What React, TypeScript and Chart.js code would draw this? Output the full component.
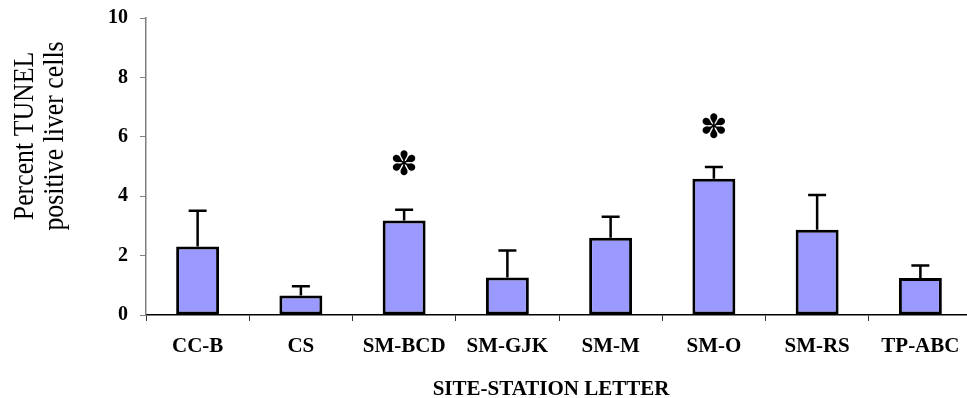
import React, { useEffect, useRef } from "react";
import { Chart, registerables } from "chart.js";

Chart.register(...registerables);

const categories = ["CC-B", "CS", "SM-BCD", "SM-GJK", "SM-M", "SM-O", "SM-RS", "TP-ABC"];
const means = [2.31, 0.66, 3.18, 1.26, 2.6, 4.59, 2.87, 1.25];
const errors = [1.2, 0.31, 0.36, 0.91, 0.71, 0.39, 1.17, 0.42];
const starValues: (number | null)[] = [null, null, 4.99, null, null, 6.26, null, null];
const yTitleLines = ["Percent TUNEL", "positive liver cells"];
const xTitle = "SITE-STATION LETTER";

const SERIF = '"Liberation Serif", "Times New Roman", serif';

const overlayPlugin = {
  id: "overlay",
  afterDatasetsDraw(chart: any) {
    const ctx = chart.ctx;
    const meta = chart.getDatasetMeta(0);
    const y = chart.scales.y;
    ctx.save();
    ctx.strokeStyle = "#000";
    ctx.lineWidth = 2.5;
    meta.data.forEach((bar: any, i: number) => {
      const top = y.getPixelForValue(means[i] + errors[i]);
      const barTop = bar.y;
      ctx.beginPath();
      ctx.moveTo(bar.x, barTop);
      ctx.lineTo(bar.x, top);
      ctx.moveTo(bar.x - 9, top);
      ctx.lineTo(bar.x + 9, top);
      ctx.stroke();
      const s = starValues[i];
      if (s !== null && s !== undefined) {
        ctx.fillStyle = "#000";
        ctx.font = 'bold 33px "DejaVu Sans"';
        ctx.textAlign = "center";
        ctx.textBaseline = "middle";
        ctx.fillText("\u273D", bar.x, y.getPixelForValue(s));
      }
    });
    ctx.restore();
  },
  afterDraw(chart: any) {
    const ctx = chart.ctx;
    ctx.save();
    ctx.fillStyle = "#000";
    // y title
    ctx.translate(0, 136);
    ctx.rotate(-Math.PI / 2);
    ctx.scale(0.89, 1);
    ctx.font = "29px " + SERIF;
    ctx.textAlign = "center";
    ctx.textBaseline = "alphabetic";
    ctx.fillText(yTitleLines[0], 0, 33);
    ctx.fillText(yTitleLines[1], 0, 63);
    ctx.restore();
    ctx.save();
    ctx.fillStyle = "#000";
    ctx.font = "bold 21px " + SERIF;
    ctx.textAlign = "center";
    ctx.textBaseline = "alphabetic";
    ctx.fillText(xTitle, 551, 395);
    ctx.restore();
  },
};

export default function App() {
  const ref = useRef<HTMLCanvasElement>(null);
  useEffect(() => {
    if (!ref.current) return;
    const chart = new Chart(ref.current, {
      type: "bar",
      data: {
        labels: categories,
        datasets: [
          {
            data: means,
            backgroundColor: "#9999FF",
            borderColor: "#000",
            borderWidth: 3,
            borderSkipped: false,
            categoryPercentage: 1,
            barPercentage: 0.416,
          },
        ],
      },
      options: {
        responsive: false,
        animation: false,
        devicePixelRatio: 1,
        layout: { padding: { top: 18, right: 8, left: 0, bottom: 0 } },
        plugins: { legend: { display: false }, tooltip: { enabled: false }, title: { display: false } },
        scales: {
          x: {
            grid: { display: true, drawOnChartArea: false, drawTicks: true, tickLength: 6, offset: true, color: "#333" },
            border: { display: true, color: "#000", width: 1.5 },
            ticks: { color: "#000", font: { family: SERIF, size: 21, weight: "bold" }, padding: 13, maxRotation: 0, autoSkip: false },
            afterFit: (s: any) => { s.height = 83; },
          },
          y: {
            min: 0,
            max: 10,
            grid: { display: true, drawOnChartArea: false, drawTicks: true, tickLength: 6, color: "#808080" },
            border: { display: true, color: "#808080", width: 1.5 },
            ticks: { stepSize: 2, color: "#000", font: { family: SERIF, size: 20, weight: "bold", lineHeight: 0.6 }, padding: 12 },
            afterFit: (s: any) => { s.width = 146; },
          },
        },
      },
      plugins: [overlayPlugin],
    });
    return () => chart.destroy();
  }, []);
  return (
    <div style={{ position: "absolute", left: 0, top: 0, width: 967, height: 398, overflow: "hidden", background: "#fff" }}>
      <canvas ref={ref} width={980} height={398} style={{ display: "block", width: 980, height: 398 }} />
    </div>
  );
}
